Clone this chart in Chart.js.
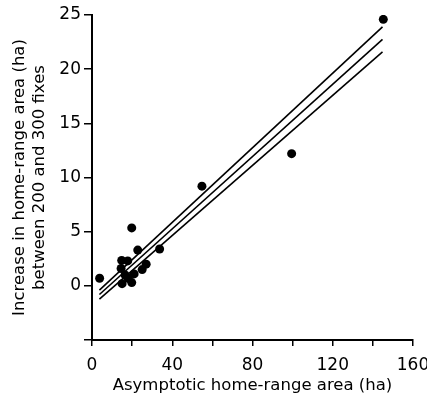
<!DOCTYPE html>
<html>
<head>
<meta charset="utf-8">
<script src="https://cdn.jsdelivr.net/npm/chart.js@4/dist/chart.umd.min.js"></script>
<style>
  html, body { margin: 0; padding: 0; background: #fff; }
  #wrap { width: 427px; height: 399px; }
</style>
</head>
<body>
<div id="wrap"><canvas id="c" width="427" height="399"></canvas></div>
<script>
// Observed points: asymptotic home-range area (ha) vs increase (ha)
const pointX = [3.8, 19.8, 22.8, 33.7, 14.8, 17.8, 27.0, 25.0, 14.5, 16.5, 21.0, 15.0, 19.8, 18.0, 54.8, 99.5, 145.2];
const pointY = [0.7, 5.35, 3.3, 3.4, 2.35, 2.3, 2.0, 1.5, 1.6, 1.0, 1.1, 0.2, 0.3, 0.7, 9.2, 12.2, 24.6];

// Regression line and its two bounding lines (end points)
const lineX = [3.7, 144.8];
const upperY = [-0.4, 23.9];
const fitY = [-0.8, 22.75];
const lowerY = [-1.23, 21.6];

// Axis ticks
const xMin = 0, xMax = 160, xStep = 20, xLabelEvery = 40;
const yMin = -5, yMax = 25, yStep = 5;

const xTitle = 'Asymptotic home-range area (ha)';
const yTitle = ['Increase in home-range area (ha)', 'between 200 and 300 fixes'];

const pts = pointX.map((x, i) => ({ x, y: pointY[i] }));
const mk = ys => lineX.map((x, i) => ({ x, y: ys[i] }));

const FONT = 'DejaVu Sans';

new Chart(document.getElementById('c'), {
  type: 'scatter',
  data: {
    datasets: [
      { data: mk(upperY), showLine: true, borderColor: '#000', borderWidth: 1.6, pointRadius: 0, fill: false },
      { data: mk(fitY), showLine: true, borderColor: '#000', borderWidth: 1.6, pointRadius: 0, fill: false },
      { data: mk(lowerY), showLine: true, borderColor: '#000', borderWidth: 1.6, pointRadius: 0, fill: false },
      { data: pts, pointRadius: 4.5, pointBackgroundColor: '#000', pointBorderColor: '#000', pointBorderWidth: 0, showLine: false }
    ]
  },
  options: {
    responsive: false,
    animation: false,
    layout: { padding: { left: 0, top: 15, right: 14, bottom: 0 } },
    plugins: { legend: { display: false }, tooltip: { enabled: false } },
    scales: {
      x: {
        type: 'linear',
        min: xMin, max: xMax,
        afterFit: s => { s.height = 59; s.paddingLeft = 0; s.paddingRight = 0; },
        border: { display: true, color: '#000', width: 2 },
        grid: { display: true, drawOnChartArea: false, drawTicks: true, tickLength: 6, color: '#000', lineWidth: 1.5 },
        ticks: {
          stepSize: xStep, color: '#000', padding: 9, maxRotation: 0, autoSkip: false,
          font: { family: FONT, size: 17 },
          callback: v => (v % xLabelEvery === 0 ? String(v) : '')
        },
        title: { display: true, text: xTitle, color: '#000', font: { family: FONT, size: 16.5 }, padding: { top: 0, bottom: 3 } }
      },
      y: {
        type: 'linear',
        min: yMin, max: yMax,
        afterFit: s => { s.width = 92; s.paddingTop = 0; s.paddingBottom = 0; },
        border: { display: true, color: '#000', width: 2 },
        grid: { display: true, drawOnChartArea: false, drawTicks: true, tickLength: 8, color: '#000', lineWidth: 1.5 },
        ticks: {
          stepSize: yStep, color: '#000', padding: 3,
          font: { family: FONT, size: 17 },
          callback: v => (v >= 0 ? String(v) : '')
        },
        title: { display: true, text: yTitle, color: '#000', font: { family: FONT, size: 16.5 }, padding: { top: 10, bottom: 0 } }
      }
    }
  }
});
</script>
</body>
</html>
